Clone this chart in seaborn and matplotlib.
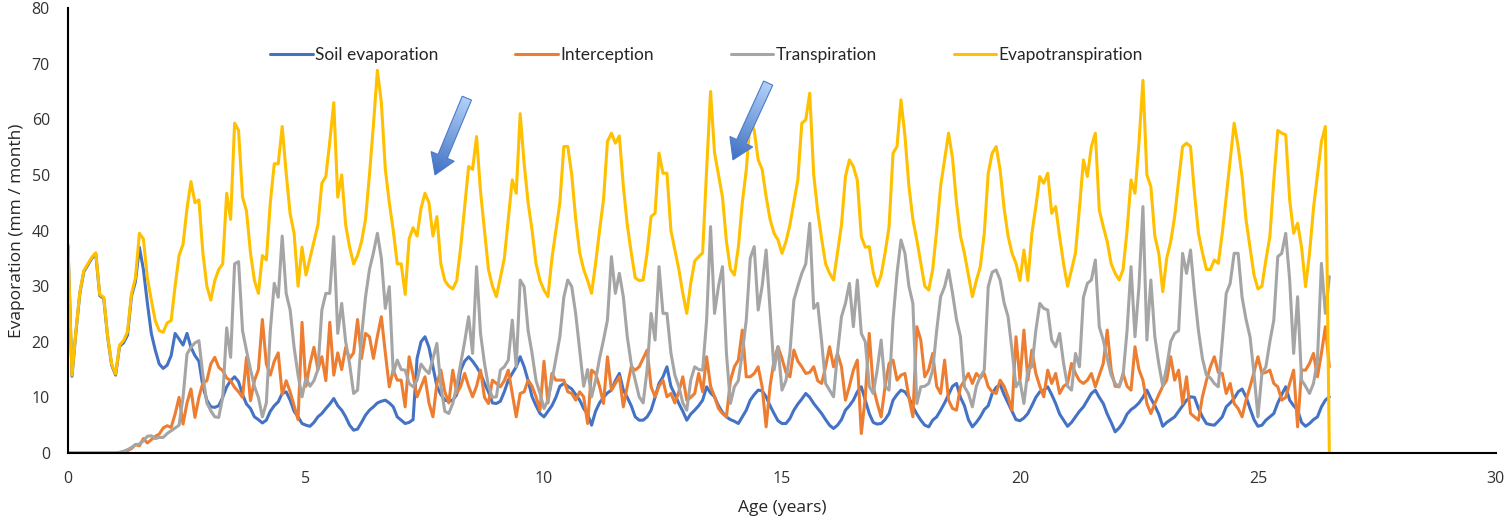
import numpy as np
import pandas as pd
import matplotlib
matplotlib.use("Agg")
import matplotlib.pyplot as plt
from matplotlib.patches import Polygon
from matplotlib.colors import LinearSegmentedColormap
import seaborn as sns

# ---------------- data (monthly values) ----------------
series_names = ["Soil evaporation", "Interception", "Transpiration", "Evapotranspiration"]
series_colors = ["#4472C4", "#ED7D31", "#A5A5A5", "#FFC000"]
x_ticks = [0, 5, 10, 15, 20, 25, 30]
y_ticks = [0, 10, 20, 30, 40, 50, 60, 70, 80]

soil_evaporation = [
    37.2, 13.8, 21.8, 28.8, 32.6, 33.8, 35.0, 35.8, 28.3, 27.8, 20.8, 15.8,
    14.0, 19.2, 19.8, 21.2, 28.2, 30.8, 37.0, 33.0, 27.0, 21.5, 18.5, 16.0,
    15.2, 15.8, 17.5, 21.5, 20.5, 19.4, 21.5, 19.0, 17.5, 16.5, 12.0, 9.5,
    8.3, 8.2, 8.5, 10.0, 11.9, 13.0, 13.7, 12.8, 10.5, 8.8, 8.0, 6.5,
    6.0, 5.4, 5.9, 7.5, 8.5, 9.2, 10.7, 11.0, 9.5, 7.5, 6.5, 5.3,
    5.0, 4.8, 5.5, 6.5, 7.1, 8.0, 8.8, 9.8, 8.5, 7.7, 6.5, 5.0,
    4.1, 4.3, 5.5, 6.8, 7.7, 8.3, 9.0, 9.3, 9.5, 9.0, 8.3, 6.5,
    5.9, 5.3, 5.5, 6.0, 17.0, 20.0, 20.9, 19.0, 15.5, 12.0, 10.5, 9.5,
    9.3, 9.5, 10.5, 14.9, 16.5, 17.3, 16.5, 15.5, 14.3, 12.5, 11.0, 9.0,
    8.9, 9.3, 11.0, 13.1, 14.3, 15.5, 17.3, 15.5, 13.0, 10.1, 8.5, 7.1,
    6.5, 7.5, 8.5, 10.0, 12.0, 12.5, 12.0, 11.5, 10.5, 9.5, 8.0, 7.0,
    5.0, 7.5, 9.0, 10.0, 10.8, 11.3, 13.0, 14.3, 11.3, 10.0, 8.5, 6.5,
    5.9, 5.9, 6.5, 7.7, 10.0, 12.5, 13.7, 15.5, 12.0, 10.5, 8.9, 7.5,
    5.9, 7.0, 7.7, 8.5, 9.5, 11.9, 10.8, 10.1, 8.5, 7.3, 6.5, 6.0,
    5.7, 5.3, 6.5, 7.7, 9.5, 10.5, 11.3, 11.2, 10.1, 8.5, 7.1, 5.8,
    5.3, 5.3, 6.2, 7.7, 8.8, 9.7, 10.7, 10.0, 8.9, 8.0, 7.1, 6.0,
    5.0, 4.4, 5.0, 6.0, 7.7, 8.5, 9.5, 11.0, 11.9, 9.5, 7.1, 5.5,
    5.2, 5.3, 6.0, 7.1, 9.5, 10.5, 11.3, 11.0, 10.0, 8.3, 7.0, 5.9,
    5.0, 4.7, 5.9, 6.5, 7.7, 9.0, 10.5, 12.0, 12.5, 10.0, 8.5, 6.0,
    4.7, 5.5, 6.5, 7.8, 8.5, 10.7, 11.8, 12.3, 10.5, 9.0, 7.5, 6.0,
    5.8, 6.3, 7.1, 8.5, 10.0, 11.0, 11.3, 11.9, 10.5, 8.9, 7.0, 5.9,
    4.8, 5.5, 6.5, 7.5, 8.3, 9.5, 10.7, 11.3, 10.0, 8.9, 7.0, 5.5,
    3.8, 4.5, 5.5, 7.0, 7.8, 8.3, 9.0, 10.0, 11.3, 9.8, 8.5, 7.0,
    4.8, 5.5, 6.0, 6.5, 7.5, 8.5, 9.5, 10.1, 10.0, 8.0, 6.5, 5.3,
    5.1, 5.0, 5.7, 6.5, 8.3, 9.0, 9.8, 11.0, 11.5, 10.1, 8.0, 6.0,
    4.8, 5.0, 5.9, 6.5, 7.1, 9.0, 10.5, 11.9, 9.5, 8.5, 7.7, 5.5,
    4.8, 5.3, 6.0, 6.5, 8.3, 9.5, 10.1,
]

interception = [
    0, 0, 0, 0, 0, 0, 0, 0, 0, 0, 0, 0,
    0, 0.1, 0.2, 0.4, 0.8, 1.5, 1.3, 2.6, 1.8, 2.4, 3.0, 3.4,
    4.5, 4.9, 4.6, 7.0, 10.0, 5.2, 9.0, 11.5, 6.4, 10.0, 12.6, 13.0,
    16.0, 17.2, 15.4, 14.8, 13.5, 13.0, 11.8, 11.0, 10.0, 17.2, 9.4, 13.0,
    15.0, 24.0, 16.0, 14.0, 16.5, 18.0, 10.5, 13.0, 11.0, 8.5, 6.0, 23.5,
    12.0, 16.0, 19.0, 15.0, 17.3, 13.0, 23.5, 14.0, 18.0, 15.0, 19.0, 17.0,
    18.0, 24.0, 17.0, 21.5, 20.9, 17.0, 21.0, 24.5, 18.0, 11.9, 14.9, 13.1,
    13.1, 8.3, 17.3, 14.0, 10.1, 11.9, 13.7, 9.0, 6.5, 12.5, 14.9, 11.0,
    9.0, 14.9, 10.7, 12.0, 14.3, 12.0, 10.1, 12.0, 14.9, 10.0, 8.9, 13.1,
    12.5, 11.9, 13.0, 14.9, 10.7, 6.5, 10.7, 11.0, 13.1, 12.0, 10.1, 7.7,
    16.5, 9.0, 14.3, 13.1, 13.1, 13.1, 11.0, 10.7, 9.5, 11.0, 10.1, 5.3,
    14.9, 14.3, 12.0, 8.9, 17.3, 11.3, 12.5, 13.7, 8.3, 12.0, 15.5, 14.9,
    15.5, 17.0, 18.5, 11.9, 10.1, 12.0, 13.1, 10.1, 10.7, 9.0, 11.0, 13.7,
    9.5, 10.0, 10.7, 14.3, 11.0, 17.3, 12.0, 10.1, 8.0, 7.1, 6.5, 13.0,
    15.5, 16.7, 22.1, 13.7, 13.7, 14.3, 15.5, 11.9, 4.7, 12.0, 16.7, 19.1,
    17.0, 14.5, 13.7, 18.5, 16.5, 15.5, 14.3, 14.5, 15.5, 13.0, 12.5, 15.5,
    19.1, 15.5, 17.9, 15.5, 9.5, 12.0, 14.9, 16.7, 3.5, 10.0, 21.5, 11.9,
    9.0, 6.5, 12.0, 16.1, 16.7, 13.1, 14.0, 14.3, 10.0, 6.5, 22.7, 20.3,
    13.7, 15.0, 17.9, 12.0, 10.7, 16.7, 9.5, 8.0, 7.7, 11.9, 13.0, 14.3,
    12.5, 14.3, 13.5, 14.3, 11.9, 11.0, 10.7, 13.1, 12.0, 10.1, 7.7, 20.9,
    13.1, 22.1, 13.1, 18.5, 14.3, 12.0, 10.1, 14.9, 12.5, 14.3, 10.7, 12.0,
    12.5, 16.1, 14.3, 13.0, 12.5, 13.1, 14.3, 11.9, 14.0, 16.1, 22.1, 14.9,
    12.0, 11.9, 14.3, 12.0, 11.3, 19.1, 15.0, 13.1, 8.9, 7.1, 8.9, 10.5,
    12.0, 13.1, 17.3, 13.1, 14.9, 8.9, 13.7, 7.1, 6.5, 5.9, 10.1, 13.0,
    15.5, 17.3, 14.5, 14.3, 10.7, 12.5, 8.9, 8.0, 6.5, 9.5, 11.9, 14.5,
    17.3, 14.3, 14.5, 14.9, 12.5, 11.9, 9.5, 10.0, 12.5, 14.9, 4.7, 14.9,
    14.9, 16.1, 17.9, 13.7, 17.9, 22.7, 15.5,
]

transpiration = [
    0, 0, 0, 0, 0, 0, 0, 0, 0, 0, 0, 0,
    0, 0.1, 0.3, 0.6, 1.0, 1.5, 1.6, 2.2, 3.0, 3.1, 2.6, 2.8,
    2.8, 3.5, 4.0, 4.5, 5.0, 10.0, 17.8, 19.0, 19.8, 20.2, 14.0, 9.0,
    7.6, 6.5, 6.4, 10.0, 22.5, 17.2, 34.0, 34.4, 22.0, 18.4, 15.0, 12.0,
    10.0, 6.5, 9.0, 22.0, 30.5, 28.0, 39.0, 28.7, 25.7, 19.0, 14.0, 10.1,
    13.5, 12.0, 13.0, 15.0, 25.7, 28.7, 28.7, 38.9, 21.5, 26.9, 20.0, 16.0,
    10.7, 11.3, 20.9, 28.0, 33.0, 36.0, 39.5, 35.0, 26.0, 29.9, 14.3, 16.7,
    15.0, 14.9, 12.5, 11.9, 13.1, 16.0, 15.0, 14.3, 17.0, 19.7, 12.0, 7.5,
    7.1, 8.9, 12.0, 16.1, 20.0, 24.5, 17.9, 33.5, 21.5, 16.1, 12.0, 10.0,
    10.1, 14.9, 15.5, 16.7, 23.9, 15.5, 31.1, 29.9, 22.0, 17.9, 13.0, 10.7,
    8.0, 9.5, 13.0, 17.0, 20.9, 28.0, 31.1, 29.9, 25.0, 18.5, 12.0, 15.0,
    10.1, 13.0, 17.0, 20.3, 23.9, 35.3, 28.7, 32.3, 28.1, 20.9, 16.0, 13.1,
    10.1, 9.0, 15.0, 25.1, 20.3, 33.5, 25.1, 25.1, 18.0, 14.0, 11.9, 9.0,
    7.7, 13.1, 15.5, 15.0, 14.9, 23.9, 40.7, 25.1, 30.0, 33.5, 17.9, 8.9,
    11.9, 13.0, 18.0, 23.9, 35.0, 37.1, 25.7, 30.0, 36.5, 25.7, 14.9, 19.1,
    11.3, 13.0, 18.0, 27.5, 30.0, 32.3, 34.0, 41.3, 26.0, 26.9, 20.0, 12.5,
    11.3, 10.1, 18.0, 24.5, 26.9, 30.5, 22.7, 31.1, 21.5, 20.0, 12.0, 10.7,
    14.9, 20.3, 12.0, 11.3, 23.9, 32.3, 38.3, 35.9, 30.0, 26.9, 8.9, 11.9,
    12.0, 12.5, 14.9, 22.0, 28.1, 29.9, 32.9, 28.7, 24.0, 20.9, 11.9, 10.7,
    8.3, 12.0, 13.7, 14.9, 29.9, 32.5, 32.9, 31.1, 27.0, 24.5, 18.5, 11.9,
    13.0, 8.9, 14.9, 15.5, 22.0, 26.9, 26.0, 25.7, 20.3, 19.1, 21.5, 16.1,
    12.0, 11.3, 17.9, 15.5, 28.0, 30.5, 31.1, 34.7, 22.7, 20.3, 17.0, 14.0,
    12.5, 11.9, 14.0, 22.0, 33.5, 20.9, 29.9, 44.3, 20.3, 31.1, 20.9, 16.0,
    12.0, 15.5, 20.0, 21.5, 22.0, 35.9, 32.3, 36.5, 28.7, 22.0, 17.0, 14.0,
    13.5, 12.5, 11.9, 20.0, 28.7, 30.5, 35.9, 35.9, 28.0, 24.0, 20.9, 14.3,
    6.5, 14.3, 15.5, 20.0, 23.9, 35.3, 35.9, 39.5, 31.1, 17.9, 28.1, 13.1,
    12.0, 10.7, 12.5, 16.7, 34.1, 25.1, 31.7,
]

evapotranspiration = [
    37.4, 14.0, 22.0, 29.0, 32.8, 34.0, 35.2, 36.0, 28.5, 28.0, 21.0, 16.0,
    14.2, 19.4, 20.2, 21.8, 28.6, 31.5, 39.5, 38.5, 31.5, 27.5, 23.8, 22.0,
    21.7, 23.4, 23.8, 30.0, 35.5, 37.5, 44.0, 48.8, 45.0, 45.5, 36.0, 30.0,
    27.5, 31.0, 33.0, 34.0, 46.7, 42.0, 59.3, 58.0, 46.0, 43.5, 36.0, 31.0,
    28.7, 35.5, 34.7, 45.0, 52.0, 52.0, 58.7, 50.3, 43.0, 39.5, 30.0, 37.0,
    32.0, 35.0, 38.0, 41.0, 48.5, 49.7, 56.0, 63.0, 46.0, 50.0, 41.0, 37.0,
    34.0, 35.5, 38.0, 42.0, 50.0, 59.0, 68.8, 63.0, 51.0, 45.0, 40.0, 34.0,
    34.0, 28.5, 38.5, 40.5, 39.0, 44.0, 46.7, 45.0, 39.0, 42.5, 34.0, 31.0,
    30.0, 29.5, 31.0, 37.0, 44.3, 51.5, 51.0, 56.9, 47.0, 40.0, 33.0, 30.0,
    28.1, 31.5, 35.0, 42.0, 49.1, 46.7, 61.0, 52.0, 45.0, 40.0, 34.0, 31.0,
    29.3, 28.1, 35.0, 40.0, 45.0, 55.1, 55.1, 50.0, 42.0, 36.0, 33.0, 31.0,
    28.7, 34.0, 40.0, 45.5, 56.0, 57.5, 55.7, 57.0, 48.0, 41.0, 36.0, 31.5,
    31.0, 31.1, 36.0, 42.5, 43.1, 53.9, 50.3, 50.3, 40.0, 36.5, 33.0, 28.7,
    25.1, 30.5, 34.5, 35.3, 36.0, 50.9, 65.0, 54.0, 50.0, 46.0, 38.0, 33.0,
    32.0, 37.0, 45.0, 50.9, 59.9, 58.0, 52.7, 51.0, 46.1, 42.0, 39.5, 38.3,
    35.9, 38.0, 41.0, 45.0, 49.1, 59.3, 59.9, 64.7, 50.0, 43.5, 38.5, 34.0,
    32.3, 31.1, 36.0, 41.0, 49.7, 52.7, 51.5, 49.0, 38.9, 37.0, 37.1, 32.5,
    30.0, 32.0, 36.0, 40.7, 53.9, 55.1, 63.5, 57.0, 48.0, 42.0, 38.3, 34.1,
    30.0, 29.3, 33.0, 40.0, 48.0, 52.7, 57.5, 53.0, 45.0, 39.0, 35.9, 32.0,
    28.1, 31.0, 33.5, 39.5, 50.3, 53.9, 55.1, 50.9, 44.0, 39.0, 35.9, 34.1,
    31.0, 36.5, 31.0, 39.5, 44.3, 49.7, 48.5, 50.3, 43.1, 44.3, 38.9, 34.0,
    30.0, 32.9, 36.0, 44.0, 52.7, 49.7, 55.1, 57.5, 43.7, 40.7, 38.0, 34.0,
    32.3, 31.1, 33.0, 40.0, 49.1, 46.7, 55.7, 67.0, 50.0, 47.9, 39.0, 35.9,
    29.0, 35.0, 38.0, 42.5, 49.0, 55.1, 55.7, 55.1, 46.7, 39.5, 36.0, 33.0,
    33.0, 34.7, 34.1, 39.5, 46.0, 52.7, 59.3, 55.1, 49.7, 41.9, 37.0, 32.0,
    29.5, 30.0, 34.7, 38.9, 49.1, 58.0, 57.5, 57.2, 45.5, 39.5, 41.3, 37.0,
    29.9, 35.9, 44.0, 50.0, 56.0, 58.7, 0.0,
]

# ---------------- build long-form table ----------------
all_series = [soil_evaporation, interception, transpiration, evapotranspiration]
frames = []
for name, vals in zip(series_names, all_series):
    age = np.arange(len(vals)) / 12.0   # monthly records -> age in years
    frames.append(pd.DataFrame({"Age": age, "Evaporation": vals, "Series": name}))
df = pd.concat(frames, ignore_index=True)

# ---------------- plot ----------------
sns.set_theme(style="white")
plt.rcParams["font.family"] = ["Open Sans", "DejaVu Sans"]

fig = plt.figure(figsize=(15.08, 5.24), dpi=100)
ax = fig.add_axes([0.0451, 0.1355, 0.9469, 0.8492])

sns.lineplot(data=df, x="Age", y="Evaporation", hue="Series",
             hue_order=series_names, palette=series_colors,
             linewidth=2.2, estimator=None, sort=False, ax=ax)
for ln in ax.get_lines():
    ln.set_solid_joinstyle("round")
    ln.set_solid_capstyle("round")

ax.set_xlim(0, 30)
ax.set_ylim(0, 80)
ax.set_xticks(x_ticks)
ax.set_yticks(y_ticks)
ax.set_xlabel("Age (years)", fontsize=12.5, color="#262626", labelpad=9)
ax.set_ylabel("Evaporation (mm / month)", fontsize=12.5, color="#262626", labelpad=5)
ax.tick_params(axis="both", labelsize=11.5, labelcolor="#333333", color="black",
               direction="out", length=5, width=1.2)
ax.tick_params(axis="x", pad=8)
ax.tick_params(axis="y", pad=8)
for side in ["top", "right"]:
    ax.spines[side].set_visible(False)
for side in ["left", "bottom"]:
    ax.spines[side].set_color("black")
    ax.spines[side].set_linewidth(1.5)

handles, labels = ax.get_legend_handles_labels()
ax.legend(handles, labels, ncol=4, loc="center left",
          bbox_to_anchor=(0.1415, 0.895), frameon=False,
          prop={"family": "Lato", "size": 12.5},
          handlelength=2.45, handletextpad=0.12, columnspacing=4.45,
          borderpad=0, borderaxespad=0)

# ---------------- gradient block arrows (annotations) ----------------
arrow_cmap = LinearSegmentedColormap.from_list("arr", ["#B7D5FA", "#3E6FC2"])
arrows = [((7.71, 50.0), (8.38, 63.8)), ((13.97, 52.7), (14.71, 66.5))]
fig.canvas.draw()
to_disp = ax.transData
to_data = ax.transData.inverted()
body_hw, head_hw, head_len = 5.0, 12.5, 20.0
for tip, tail in arrows:
    p_tip = np.array(to_disp.transform(tip))
    p_tail = np.array(to_disp.transform(tail))
    d = p_tip - p_tail
    d = d / np.hypot(*d)
    n = np.array([-d[1], d[0]])
    neck = p_tip - d * head_len
    pts = np.array([p_tail + n * body_hw, neck + n * body_hw, neck + n * head_hw,
                    p_tip, neck - n * head_hw, neck - n * body_hw, p_tail - n * body_hw])
    pts_data = to_data.transform(pts)
    poly = Polygon(pts_data, closed=True, facecolor="none", edgecolor="#4A7BCB",
                   lw=0.8, zorder=6)
    ax.add_patch(poly)
    xmin, ymin = pts.min(axis=0)
    xmax, ymax = pts.max(axis=0)
    gx, gy = np.meshgrid(np.linspace(xmin, xmax, 60), np.linspace(ymax, ymin, 60))
    proj = (gx - p_tail[0]) * d[0] + (gy - p_tail[1]) * d[1]
    proj = (proj - proj.min()) / (proj.max() - proj.min())
    (dx0, dy0), (dx1, dy1) = to_data.transform([[xmin, ymin], [xmax, ymax]])
    im = ax.imshow(proj, cmap=arrow_cmap, extent=[dx0, dx1, dy0, dy1],
                   aspect="auto", zorder=5, interpolation="bilinear")
    im.set_clip_path(poly)

ax.set_xlim(0, 30)
ax.set_ylim(0, 80)

fig.savefig("out.png", dpi=100)
